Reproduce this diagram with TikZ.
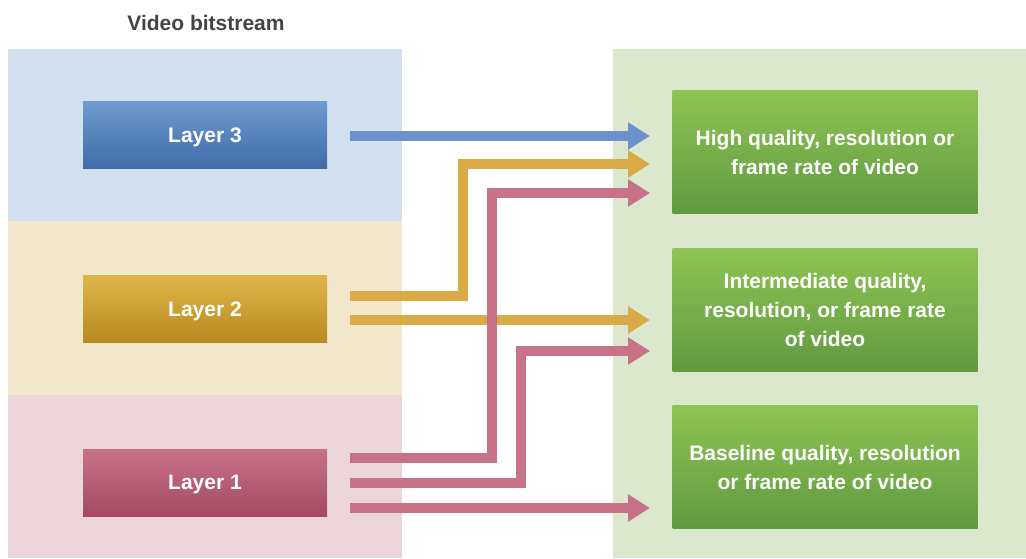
\documentclass[tikz,border=0pt]{standalone}
\usepackage{fontspec}
\setmainfont{Liberation Sans}
\usetikzlibrary{arrows.meta}
\definecolor{pblue}{HTML}{D3E0EF}
\definecolor{pyellow}{HTML}{F2E6CB}
\definecolor{ppink}{HTML}{ECD6DC}
\definecolor{pgreen}{HTML}{DCE8CD}
\definecolor{btop}{HTML}{6F9BD0}
\definecolor{bbot}{HTML}{3F6CA8}
\definecolor{ytop}{HTML}{DFB54A}
\definecolor{ybot}{HTML}{B88A1F}
\definecolor{rtop}{HTML}{C87288}
\definecolor{rbot}{HTML}{A44A63}
\definecolor{gtop}{HTML}{8EC454}
\definecolor{gbot}{HTML}{5F9A40}
\definecolor{ablue}{HTML}{6B92CC}
\definecolor{ayellow}{HTML}{D9AA45}
\definecolor{apink}{HTML}{C87289}
\definecolor{titlegray}{HTML}{444444}
\begin{document}
\begin{tikzpicture}[x=1pt,y=-1pt,
  layerbox/.style={rectangle, minimum width=244pt, minimum height=67pt, inner sep=0pt,
    text depth=0pt, text=white, font=\fontsize{21}{24}\selectfont\bfseries},
  outbox/.style={rectangle, minimum width=305pt, minimum height=123pt, inner sep=0pt,
    text=white, align=center, font=\fontsize{21}{29}\selectfont\bfseries,
    top color=gtop, bottom color=gbot},
  flow/.style={line width=10pt, line join=miter, -{Triangle[length=22pt,width=26pt]}}]
\useasboundingbox (0,0) rectangle (1026,558);
% panels
\fill[pblue] (8,49) rectangle (402,221);
\fill[pyellow] (8,221) rectangle (402,395);
\fill[ppink] (8,395) rectangle (402,558);
\fill[pgreen] (613,49) rectangle (1026,558);
% title
\node[text=titlegray, font=\fontsize{21}{24}\selectfont\bfseries] (title) at (206,23) {Video bitstream};
% layer boxes
\node[layerbox, top color=btop, bottom color=bbot] (L3) at (205,135) {Layer 3};
\node[layerbox, top color=ytop, bottom color=ybot] (L2) at (205,309) {Layer 2};
\node[layerbox, top color=rtop, bottom color=rbot] (L1) at (205,482.5) {Layer 1};
% output boxes
\node[outbox] (H) at (825,152) {High quality, resolution or\\frame rate of video};
\node[outbox] (M) at (825,310) {Intermediate quality,\\resolution, or frame rate\\of video};
\node[outbox] (B) at (825,467) {Baseline quality, resolution\\or frame rate of video};
% connector end points
\coordinate (s3) at (350,136);
\coordinate (s2a) at (350,296);
\coordinate (s2b) at (350,320);
\coordinate (s1a) at (350,458);
\coordinate (s1b) at (350,483);
\coordinate (s1c) at (350,508);
\coordinate (e3) at (650,136);
\coordinate (e2a) at (650,164);
\coordinate (e1a) at (650,193);
\coordinate (e2b) at (650,320);
\coordinate (e1b) at (650,351);
\coordinate (e1c) at (650,508);
% connectors
\draw[flow, ablue] (s3) -- (e3);
\draw[flow, ayellow] (s2a) -- (463,296) -- (463,164) -- (e2a);
\draw[flow, ayellow] (s2b) -- (e2b);
\draw[flow, apink] (s1a) -- (492,458) -- (492,193) -- (e1a);
\draw[flow, apink] (s1b) -- (521,483) -- (521,351) -- (e1b);
\draw[flow, apink] (s1c) -- (e1c);
\end{tikzpicture}
\end{document}
